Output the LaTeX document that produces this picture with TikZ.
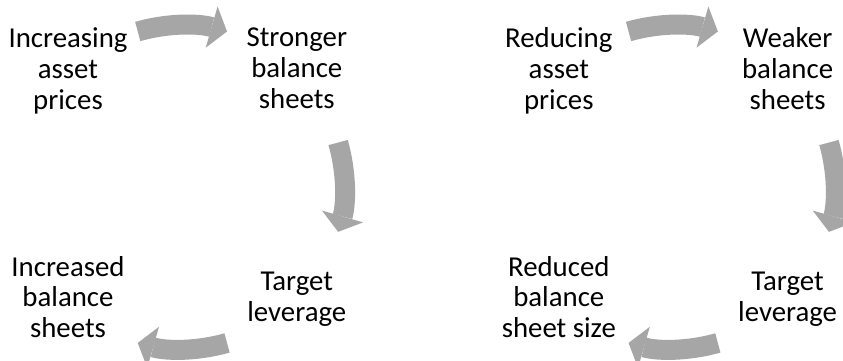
\documentclass[tikz,border=0pt]{standalone}
\usepackage{fontspec}
\setmainfont{Carlito}
\usetikzlibrary{arrows.meta,positioning,calc}
\definecolor{arrowgray}{HTML}{A6A6A6}

\begin{document}
\begin{tikzpicture}[node distance=5.72cm]
% Define styles
\tikzstyle{phase} = [align=center, inner sep=0pt, font=\fontsize{20.5}{22}\selectfont, execute at begin node=\strut, execute at end node=\strut]
\tikzstyle{cyclearrow} = [arrowgray, line width=0.5cm, -{Triangle[width=1.07cm, length=0.4cm, line width=0pt]}]

\useasboundingbox (0,0) rectangle (21.075,9);

% Boom cycle
\node (incprices) [phase] at (1.7,7.18) {Increasing\\asset\\prices};
\node (strongbs) [phase, right of=incprices] {Stronger\\balance\\sheets};
\node (leverup) [phase, below of=strongbs] {Target\\leverage};
\node (incbs) [phase, left of=leverup] {Increased\\balance\\sheets};

% Bust cycle
\node (redprices) [phase, right of=strongbs, node distance=6.55cm] {Reducing\\asset\\prices};
\node (weakbs) [phase, right of=redprices] {Weaker\\balance\\sheets};
\node (leverdown) [phase, below of=weakbs] {Target\\leverage};
\node (redbs) [phase, left of=leverdown] {Reduced\\balance\\sheet size};

% Centres of the two cycles
\coordinate (boom) at ($(incprices)!0.5!(leverup)$);
\coordinate (bust) at ($(redprices)!0.5!(leverdown)$);

% Draw arrows
\draw [cyclearrow] ([shift={(106:4.05)}]boom) arc [start angle=106, end angle=74, radius=4.05];
\draw [cyclearrow] ([shift={(16:4.05)}]boom) arc [start angle=16, end angle=-16, radius=4.05];
\draw [cyclearrow] ([shift={(-74:4.05)}]boom) arc [start angle=-74, end angle=-106, radius=4.05];
\draw [cyclearrow] ([shift={(106:4.05)}]bust) arc [start angle=106, end angle=74, radius=4.05];
\draw [cyclearrow] ([shift={(16:4.05)}]bust) arc [start angle=16, end angle=-16, radius=4.05];
\draw [cyclearrow] ([shift={(-74:4.05)}]bust) arc [start angle=-74, end angle=-106, radius=4.05];
\end{tikzpicture}
\end{document}
